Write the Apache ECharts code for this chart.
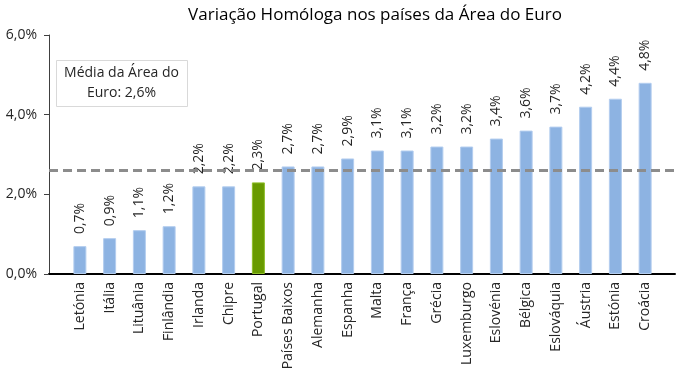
<!DOCTYPE html>
<html><head><meta charset="utf-8">
<script src="https://cdn.jsdelivr.net/npm/echarts@6/dist/echarts.min.js"></script>
<style>html,body{margin:0;padding:0;background:#fff}#c{width:680px;height:373px}</style>
</head><body><div id="c"></div>
<script>
const categories = ['Letónia','Itália','Lituânia','Finlândia','Irlanda','Chipre','Portugal','Países Baixos','Alemanha','Espanha','Malta','França','Grécia','Luxemburgo','Eslovénia','Bélgica','Eslováquia','Áustria','Estónia','Croácia'];
const values = [0.7,0.9,1.1,1.2,2.2,2.2,2.3,2.7,2.7,2.9,3.1,3.1,3.2,3.2,3.4,3.6,3.7,4.2,4.4,4.8];
const highlight = 'Portugal';
const euroAverage = 2.6;
const yTicks = [0,2,4,6];
const FONT = 'Open Sans';
const fmt = v => v.toFixed(1).replace('.', ',') + '%';

const chart = echarts.init(document.getElementById('c'));
chart.setOption({
  animation: false,
  textStyle: {fontFamily: FONT},
  title: {text: 'Variação Homóloga nos países da Área do Euro', left: 370, textAlign: 'center', top: 2,
    textStyle: {fontFamily: FONT, fontSize: 17, fontWeight: 'normal', color: '#000'}},
  grid: [
    {left: 49, right: 5, top: 35, bottom: 99},
    {left: 65, right: 20, top: 35, bottom: 99}
  ],
  xAxis: [
    {gridIndex: 0, type: 'value', min: 0, max: 1, show: true,
     axisLine: {show: true, onZero: true, lineStyle: {color: '#000', width: 2}},
     axisTick: {show: false}, axisLabel: {show: false}, splitLine: {show: false}},
    {gridIndex: 1, type: 'category', data: categories,
     axisLine: {show: false}, axisTick: {show: false},
     axisLabel: {rotate: 90, interval: 0, fontSize: 14, color: '#262626', margin: 8, fontFamily: FONT}}
  ],
  yAxis: [
    {gridIndex: 0, type: 'value', min: yTicks[0], max: yTicks[yTicks.length-1], interval: 2,
     axisLine: {show: true, lineStyle: {color: '#404040', width: 1}},
     axisTick: {show: true, length: 5, lineStyle: {color: '#404040'}},
     axisLabel: {formatter: v => fmt(v), fontSize: 14, color: '#262626', margin: 12, fontFamily: FONT},
     splitLine: {show: false}},
    {gridIndex: 1, type: 'value', min: yTicks[0], max: yTicks[yTicks.length-1], interval: 2, show: false}
  ],
  series: [
    {type: 'line', xAxisIndex: 0, yAxisIndex: 0, data: [], silent: true,
     markLine: {symbol: 'none', silent: true, label: {show: false},
       lineStyle: {color: '#8c8c8c', width: 3, type: [9, 5]},
       data: [{yAxis: euroAverage}]}},
    {type: 'bar', xAxisIndex: 1, yAxisIndex: 1, barWidth: 13,
     data: values.map((v, i) => ({value: v, itemStyle: categories[i] === highlight
        ? {color: '#689a00', borderColor: '#8fbf2a', borderWidth: 1}
        : {color: '#8db3e2', borderColor: '#b3cdef', borderWidth: 1}})),
     label: {show: true, position: 'top', rotate: 90, align: 'left', verticalAlign: 'middle', distance: 12,
       formatter: p => fmt(p.value), fontSize: 14, color: '#262626', fontFamily: FONT}}
  ],
  graphic: [
    {type: 'rect', left: 56, top: 60, shape: {width: 131, height: 46},
     style: {fill: '#fff', stroke: '#d9d9d9', lineWidth: 1}, z: 10},
    {type: 'text', x: 121.5, y: 63, style: {text: 'Média da Área do\nEuro: ' + fmt(euroAverage),
      textAlign: 'center', fill: '#262626', font: '14px "Open Sans"', lineHeight: 20}, z: 11}
  ]
});
</script></body></html>
